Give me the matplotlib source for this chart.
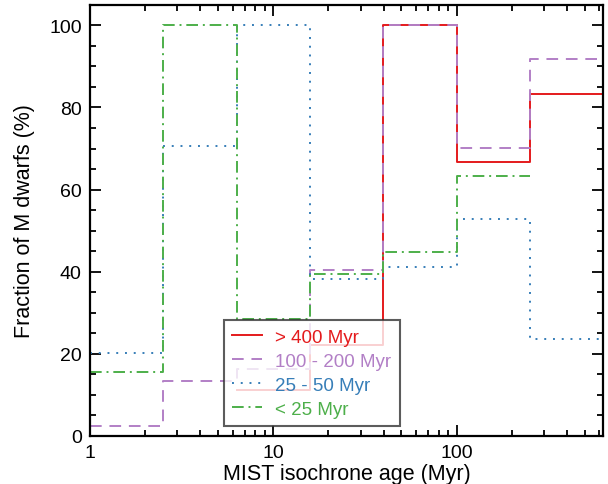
import matplotlib
matplotlib.use("Agg")
import matplotlib.pyplot as plt
import numpy as np
from matplotlib.ticker import MultipleLocator, LogLocator, NullFormatter, FixedLocator, FixedFormatter

plt.rcParams['font.family'] = ['Liberation Sans', 'DejaVu Sans']

# bin edges in log10(age / Myr)
log_edges = [0.0, 0.4, 0.8, 1.2, 1.6, 2.0, 2.4, 2.8]

# fraction of M dwarfs (%) per bin, nan = no bin
frac_old = [np.nan, np.nan, 11.1, 22.2, 100.0, 66.7, 83.3]      # > 400 Myr
frac_mid = [2.4, 13.3, 16.3, 40.5, 100.0, 70.2, 91.9]           # 100 - 200 Myr
frac_young = [20.3, 70.6, 100.0, 38.2, 41.1, 52.9, 23.6]        # 25 - 50 Myr
frac_vyoung = [15.5, 100.0, 28.6, 39.4, 44.7, 63.4, np.nan]     # < 25 Myr

labels = ['> 400 Myr', '100 - 200 Myr', '25 - 50 Myr', '< 25 Myr']
colors = ['#e41a1c', '#b27fc6', '#377eb8', '#4daf4a']
styles = ['-', (0, (6, 4)), (0, (1, 3.5)), (0, (6, 2.5, 1, 2.5))]


def steps(vals):
    # keep only the bins that exist, draw as post-step
    edges = np.array(log_edges)
    v = np.array(vals, dtype=float)
    idx = np.where(~np.isnan(v))[0]
    x = 10 ** edges[idx[0]:idx[-1] + 2]
    y = np.append(v[idx[0]:idx[-1] + 1], v[idx[-1]])
    return x, y


fig = plt.figure(figsize=(6.08, 4.85), dpi=100)
ax = fig.add_axes([0.148, 0.099, 0.844, 0.889])

for vals, lab, c, ls in zip([frac_old, frac_mid, frac_young, frac_vyoung], labels, colors, styles):
    x, y = steps(vals)
    ax.step(x, y, where='post', color=c, linestyle=ls, lw=1.4, label=lab)

ax.set_xscale('log')
ax.set_xlim(1, 10 ** 2.8)
ax.set_ylim(0, 105)

ax.xaxis.set_major_locator(FixedLocator([1, 10, 100]))
ax.xaxis.set_major_formatter(FixedFormatter(['1', '10', '100']))
ax.xaxis.set_minor_locator(LogLocator(base=10, subs=np.arange(2, 10)))
ax.xaxis.set_minor_formatter(NullFormatter())
ax.yaxis.set_major_locator(MultipleLocator(20))
ax.yaxis.set_minor_locator(MultipleLocator(5))

ax.tick_params(which='both', direction='in', top=True, right=True, width=1.3)
ax.tick_params(which='major', length=8, labelsize=14, pad=6)
ax.tick_params(which='minor', length=4.5)
for s in ax.spines.values():
    s.set_linewidth(1.6)

ax.set_xlabel('MIST isochrone age (Myr)', fontsize=15.5, labelpad=1)
ax.set_ylabel('Fraction of M dwarfs (%)', fontsize=15.5, labelpad=10)

leg = ax.legend(loc='lower left', bbox_to_anchor=(0.261, 0.023), borderaxespad=0,
                fancybox=False, framealpha=0.8, edgecolor='#333333', fontsize=13.5,
                handlelength=1.6, handletextpad=0.7, labelspacing=0.36, borderpad=0.45)
leg.get_frame().set_linewidth(1.5)
for t, c in zip(leg.get_texts(), colors):
    t.set_color(c)

fig.savefig('out.png', dpi=100)
